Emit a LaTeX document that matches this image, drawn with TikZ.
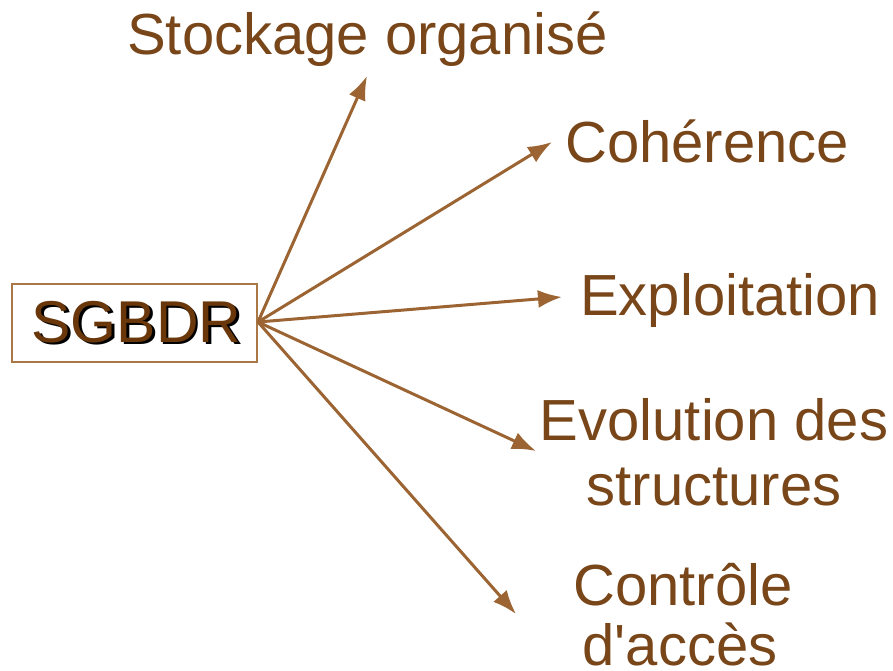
\documentclass[tikz,border=0pt]{standalone}
\usepackage{fontspec}
\setmainfont{Liberation Sans}
\usetikzlibrary{arrows.meta}
\definecolor{labelbrown}{RGB}{120,70,25}
\definecolor{arrowbrown}{RGB}{155,100,50}
\definecolor{framebrown}{RGB}{170,120,70}
\definecolor{corebrown}{RGB}{105,55,10}
\tikzset{
  lbl/.style={text=labelbrown, font=\fontsize{58}{65}\selectfont, inner sep=0pt},
  link/.style={draw=arrowbrown, line width=3pt, -{Latex[length=24pt,width=18pt]}},
}
\begin{document}
\begin{tikzpicture}[x=1pt,y=-1pt]
\useasboundingbox (0,0) rectangle (893,671);
% central box
\node[draw=framebrown, line width=1.2pt, minimum width=245pt, minimum height=78pt, inner sep=0pt] (core) at (134.5,323) {};
\node[text=black, font=\fontsize{59}{60}\selectfont, anchor=base] (coreshadow) at (139,344.5) {SGBDR};
\node[text=corebrown, font=\fontsize{59}{60}\selectfont, anchor=base] (coretxt) at (136.5,342) {SGBDR};
\coordinate (hub) at (258,322);
% targets
\node[lbl, anchor=base west] (t1) at (127,55) {Stockage organisé};
\node[lbl, anchor=base west] (t2) at (565,163) {Cohérence};
\node[lbl, anchor=base west] (t3) at (580,315) {Exploitation};
\node[lbl, anchor=base] (t4a) at (714,440) {Evolution des};
\node[lbl, anchor=base] (t4b) at (714,505) {structures};
\node[lbl, anchor=base] (t5a) at (683,605) {Contrôle};
\node[lbl, anchor=base] (t5b) at (680,665) {d\textquotesingle accès};
\coordinate (e1) at (367,76);
\coordinate (e2) at (552,142);
\coordinate (e3) at (562,297);
\coordinate (e4) at (536,451);
\coordinate (e5) at (516,614);
\foreach \e in {e1,e2,e3,e4,e5} \draw[link] (hub) -- (\e);
\end{tikzpicture}
\end{document}
